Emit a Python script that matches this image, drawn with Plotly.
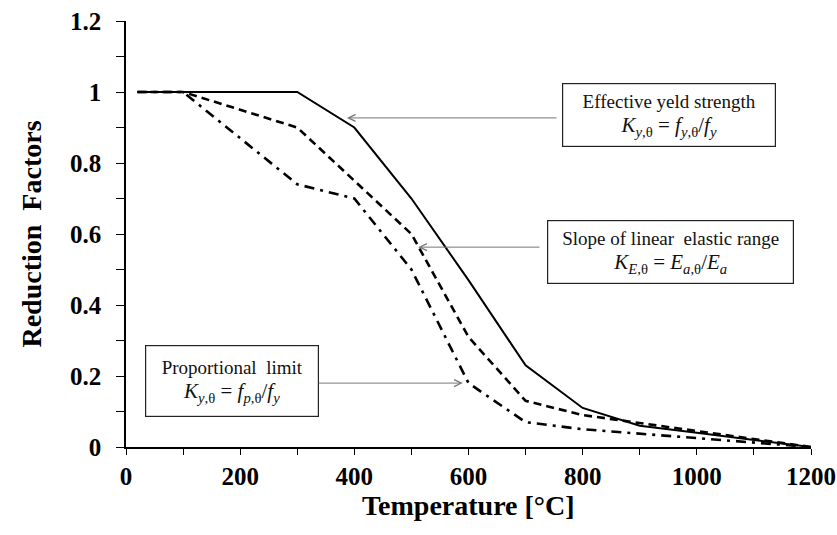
import plotly.graph_objects as go

temps_ky = [20, 100, 200, 300, 400, 500, 600, 700, 800, 900, 1000, 1100, 1200]
ky = [1.0, 1.0, 1.0, 1.0, 0.90, 0.70, 0.47, 0.23, 0.11, 0.06, 0.04, 0.02, 0.0]

temps_ke = [20, 100, 200, 300, 400, 500, 600, 700, 800, 900, 1000, 1100, 1200]
ke = [1.0, 1.0, 0.95, 0.90, 0.75, 0.60, 0.31, 0.13, 0.09, 0.0675, 0.045, 0.0225, 0.0]

temps_kp = [20, 100, 200, 300, 400, 500, 600, 700, 800, 900, 1000, 1100, 1200]
kp = [1.0, 1.0, 0.87, 0.74, 0.70, 0.50, 0.18, 0.07, 0.05, 0.0375, 0.025, 0.0125, 0.0]

x_ticks = [0, 200, 400, 600, 800, 1000, 1200]
y_ticks = [0, 0.2, 0.4, 0.6, 0.8, 1.0, 1.2]
y_ticktext = ["0", "0.2", "0.4", "0.6", "0.8", "1", "1.2"]

x_title = "Temperature [°C]"
y_title = "Reduction  Factors"

F = '<span style="font-size:21px">{}</span>'
label_ky = "Effective yeld strength<br>" + F.format(
    "<i>K</i><sub><i>y</i>,θ</sub> = <i>f</i><sub><i>y</i>,θ</sub>/<i>f</i><sub><i>y</i></sub>")
label_ke = "Slope of linear  elastic range<br>" + F.format(
    "<i>K</i><sub><i>E</i>,θ</sub> = <i>E</i><sub><i>a</i>,θ</sub>/<i>E</i><sub><i>a</i></sub>")
label_kp = "Proportional  limit<br>" + F.format(
    "<i>K</i><sub><i>y</i>,θ</sub> = <i>f</i><sub><i>p</i>,θ</sub>/<i>f</i><sub><i>y</i></sub>")

SERIF = "Liberation Serif, Times New Roman, serif"

fig = go.Figure()
fig.add_trace(go.Scatter(x=temps_ky, y=ky, mode="lines",
                         line=dict(color="black", width=2), showlegend=False))
fig.add_trace(go.Scatter(x=temps_ke, y=ke, mode="lines",
                         line=dict(color="black", width=2.6, dash="8px,5px"), showlegend=False))
fig.add_trace(go.Scatter(x=temps_kp, y=kp, mode="lines",
                         line=dict(color="black", width=2.6, dash="10px,6px,3px,6px"), showlegend=False))

# boxes
boxes = [
    (label_ky, 952, 0.936, 210, 60),
    (label_ke, 953, 0.549, 243, 60),
    (label_kp, 185, 0.186, 170, 68),
]
for txt, bx, by, w, h in boxes:
    fig.add_annotation(x=bx, y=by, xref="x", yref="y", text=txt, showarrow=False,
                       width=w, height=h, bordercolor="#222", borderwidth=1.2, borderpad=1,
                       bgcolor="white", font=dict(family=SERIF, size=19, color="#111"),
                       align="center", valign="middle")

# arrows
arrows = [
    (387, 0.927, 757, 0.927),
    (512, 0.563, 727, 0.563),
    (590, 0.180, 335, 0.180),
]
for hx, hy, tx, ty in arrows:
    fig.add_annotation(x=hx, y=hy, ax=tx, ay=ty, xref="x", yref="y", axref="x", ayref="y",
                       text="", showarrow=True, arrowhead=5, arrowsize=1.4, arrowwidth=1,
                       arrowcolor="#777", standoff=0, startstandoff=0)

# x-axis title as annotation
fig.add_annotation(x=0.5, y=-0.137, xref="paper", yref="paper", text="<b>" + x_title + "</b>",
                   showarrow=False, xanchor="center", yanchor="middle",
                   font=dict(family=SERIF, size=28, color="black"))

fig.update_layout(
    width=837, height=535,
    margin=dict(l=126, r=26, t=21, b=88),
    plot_bgcolor="white", paper_bgcolor="white",
    font=dict(family=SERIF, color="black"),
)
fig.update_xaxes(
    range=[0, 1200], tickvals=x_ticks, showgrid=False, zeroline=False, automargin=False,
    showline=True, linecolor="black", linewidth=1.5,
    ticks="outside", ticklen=6, tickcolor="black", tickwidth=1.3,
    minor=dict(dtick=100, tick0=0, ticks="outside", ticklen=6, tickcolor="black", tickwidth=1.3, showgrid=False),
    tickfont=dict(family=SERIF, size=25, color="black", weight="bold"),
    ticklabelstandoff=0,
)
fig.update_yaxes(
    range=[0, 1.2], tickvals=y_ticks, ticktext=y_ticktext, automargin=False,
    showgrid=False, zeroline=False,
    showline=True, linecolor="black", linewidth=1.5,
    ticks="outside", ticklen=8, tickcolor="black", tickwidth=1.3,
    minor=dict(dtick=0.1, tick0=0, ticks="outside", ticklen=8, tickcolor="black", tickwidth=1.3, showgrid=False),
    tickfont=dict(family=SERIF, size=25, color="black", weight="bold"),
    ticklabelstandoff=10,
    title=dict(text="<b>" + y_title + "</b>", font=dict(family=SERIF, size=28, color="black"), standoff=20),
)

fig.write_html("out.html")
